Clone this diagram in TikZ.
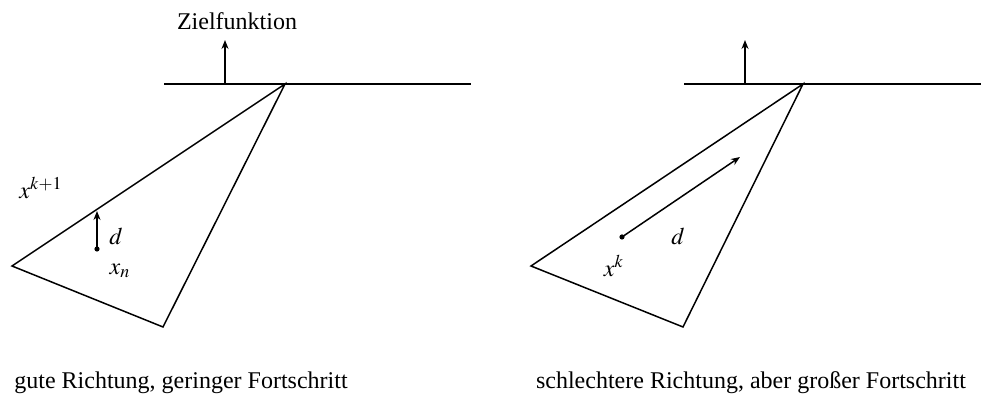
\documentclass[tikz,border=0pt]{standalone}
\usetikzlibrary{arrows.meta}
\usepackage{mathptmx}
\usepackage{fontspec}
\setmainfont{Liberation Serif}
\begin{document}
\begin{tikzpicture}[>={Stealth[length=4.5pt,width=3.5pt]},x=0.5pt,y=-0.5pt,line width=0.75pt,font=\fontsize{12}{14}\selectfont]
            \useasboundingbox (0,0) rectangle (981,394);
            % links: gute Richtung
            \coordinate (la) at (285,84);
            \coordinate (lb) at (12,266);
            \coordinate (lc) at (163,327);
            \coordinate (ll) at (164,84);
            \coordinate (lr) at (471,84);
            \coordinate (lz0) at (225,84);
            \coordinate (lz1) at (225,40);
            \coordinate (lxn) at (97,249);
            \coordinate (lxk) at (97,211);
            \draw (ll) -- (lr);
            \draw (la) -- (lb) -- (lc) -- cycle;
            \draw[->] (lz0) -- (lz1);
            \draw[->] (lxn) -- (lxk);
            \fill (lxn) circle (1.3pt);
            \node (zf) at (237,21) {Zielfunktion};
            \node (lkk) at (41,188) {$x^{k+1}$};
            \node (ld) at (116,236) {$d$};
            \node (ln) at (120,271) {$x_n$};
            \node (lcap) at (181,383) {gute Richtung, geringer Fortschritt};
            % rechts: schlechtere Richtung
            \coordinate (ra) at (803,84);
            \coordinate (rb) at (531,266);
            \coordinate (rc) at (683,327);
            \coordinate (rl) at (684,84);
            \coordinate (rr) at (981,84);
            \coordinate (rz0) at (745,84);
            \coordinate (rz1) at (745,40);
            \coordinate (rxk) at (622,237);
            \coordinate (rd) at (740,157);
            \draw (rl) -- (rr);
            \draw (ra) -- (rb) -- (rc) -- cycle;
            \draw[->] (rz0) -- (rz1);
            \draw[->] (rxk) -- (rd);
            \fill (rxk) circle (1.3pt);
            \node (rdl) at (678,236) {$d$};
            \node (rk) at (614,266) {$x^k$};
            \node (rcap) at (751,383) {schlechtere Richtung, aber großer Fortschritt};
\end{tikzpicture}
\end{document}
